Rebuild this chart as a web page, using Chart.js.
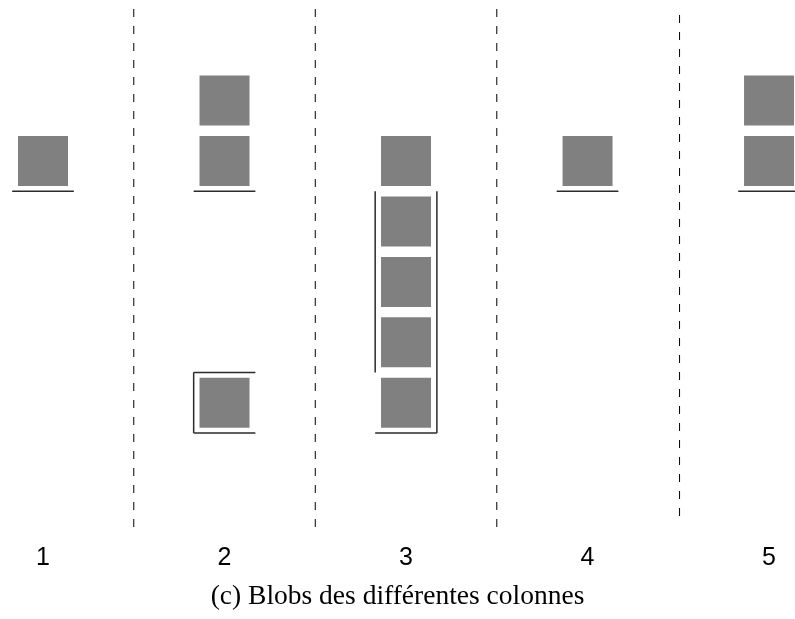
<!DOCTYPE html>
<html>
<head>
<meta charset="utf-8">
<title>Blobs des différentes colonnes</title>
<script src="https://cdn.jsdelivr.net/npm/chart.js@4/dist/chart.umd.min.js"></script>
<style>
  html, body { margin: 0; padding: 0; background: #fff; }
  #blobs { display: block; }
</style>
</head>
<body>
<canvas id="blobs" width="795" height="619"></canvas>
<script>
'use strict';

// DONNEES

const columns = ['1', '2', '3', '4', '5'];
// rows (1 = top) holding a blob, per column
const blobRows = [[2], [1, 2, 6], [2, 3, 4, 5, 6], [2], [1, 2]];
// horizontal bracket lines: [column, row boundary]
const hLines = [[1, 2.5], [2, 2.5], [2, 5.5], [2, 6.5], [3, 6.5], [4, 2.5], [5, 2.5]];
// vertical bracket lines: [column, side, from row, to row]
const vLines = [[2, -1, 5.5, 6.5], [3, -1, 2.5, 5.5], [3, 1, 2.5, 6.5]];
// dashed separators between columns: x, top row, bottom row
const sepX = [1.5, 2.5, 3.5, 4.507];
const sepTop = [-0.515, -0.515, -0.515, -0.416];
const sepBottom = [8.06, 8.06, 8.06, 8.01];

const caption = '(c) Blobs des différentes colonnes';

// style
const grey = '#808080';
const half = 0.17;

//DATASETS

const blobPoints = [];
blobRows.forEach(function(rows, i) {
  rows.forEach(function(r) {
    blobPoints.push({ x: i + 1, y: r });
  });
});

const datasets = [{
  type: 'scatter',
  data: blobPoints,
  pointStyle: 'rect',
  pointRadius: 50 / Math.SQRT2,
  pointHoverRadius: 50 / Math.SQRT2,
  backgroundColor: grey,
  borderWidth: 0,
  clip: false
}];

function lineSet(points, dash) {
  return {
    type: 'line',
    data: points,
    showLine: true,
    borderColor: dash ? '#000' : '#2b2b2b',
    borderWidth: dash ? 1 : 1.5,
    borderDash: dash ? [8, 9] : [],
    pointRadius: 0,
    pointHoverRadius: 0,
    fill: false,
    tension: 0,
    clip: false
  };
}

hLines.forEach(function(l) {
  datasets.push(lineSet([{ x: l[0] - half, y: l[1] }, { x: l[0] + half, y: l[1] }], false));
});
vLines.forEach(function(l) {
  const x = l[0] + l[1] * half;
  datasets.push(lineSet([{ x: x, y: l[2] }, { x: x, y: l[3] }], false));
});
sepX.forEach(function(x, i) {
  datasets.push(lineSet([{ x: x, y: sepTop[i] }, { x: x, y: sepBottom[i] }], true));
});

//WYKRES

const ctx = document.getElementById('blobs').getContext('2d');

const chart = new Chart(ctx, {
  type: 'scatter',
  data: { datasets: datasets },
  options: {
    responsive: false,
    animation: false,
    devicePixelRatio: 1,
    layout: { padding: 0, autoPadding: false },
    plugins: {
      legend: { display: false },
      tooltip: { enabled: false },
      title: {
        display: true,
        position: 'bottom',
        text: caption,
        color: '#000',
        font: { family: 'Liberation Serif', size: 27.5, weight: 'normal' },
        padding: { top: 0, bottom: 6 }
      }
    },
    scales: {
      x: {
        type: 'linear',
        min: 0.763,
        max: 5.143,
        afterBuildTicks: function(axis) {
          axis.ticks = columns.map(function(c, i) { return { value: i + 1 }; });
        },
        ticks: {
          callback: function(value, index) { return columns[index]; },
          color: '#000',
          font: { family: 'Liberation Sans', size: 25, lineHeight: 1.1 },
          padding: 8,
          maxRotation: 0,
          autoSkip: false
        },
        grid: { display: false, drawTicks: false },
        border: { display: false }
      },
      y: {
        display: false,
        reverse: true,
        min: -0.664,
        max: 8.213
      }
    }
  }
});
</script>
</body>
</html>
